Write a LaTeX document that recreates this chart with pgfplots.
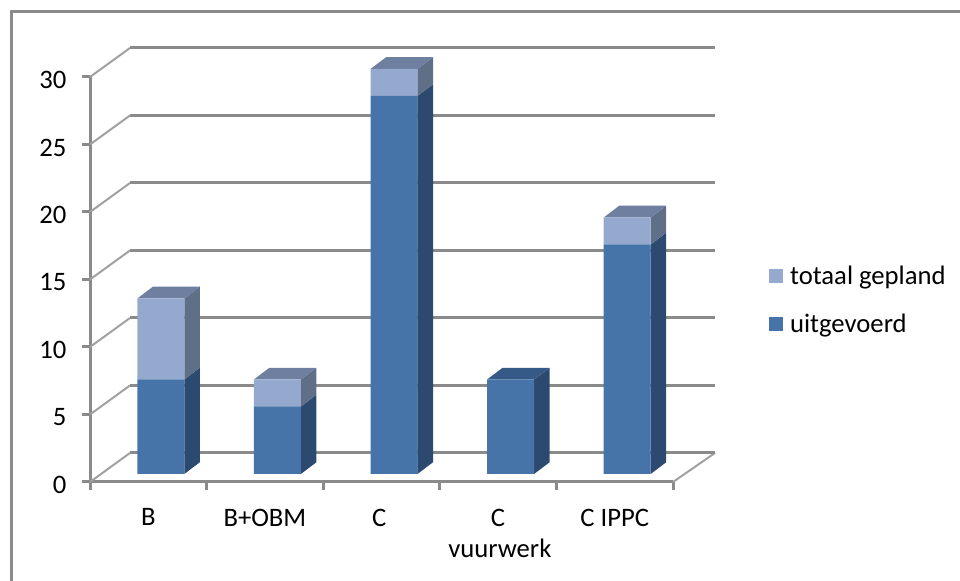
\documentclass[border=0pt]{standalone}
\usepackage{fontspec}
\setmainfont{Carlito}
\usepackage{pgfplots}
\usepackage{pgfplotstable}
\pgfplotsset{compat=1.18}

% one reference pixel
\newlength\px
\setlength\px{0.75pt}
\newcommand\chartfont{\fontsize{20pt}{23pt}\selectfont}

\definecolor{framegray}{HTML}{8A8A8A}
\definecolor{darkfront}{HTML}{4674A8}
\definecolor{darkside}{HTML}{2C4A70}
\definecolor{darktop}{HTML}{355A88}
\definecolor{lightfront}{HTML}{95A9CF}
\definecolor{lightside}{HTML}{5F6F87}
\definecolor{lighttop}{HTML}{6E7F9F}

\pgfplotstableread{
x   uitgevoerd gepland
0.5 7          6
1.5 5          2
2.5 28         2
3.5 7          0
4.5 17         2
}\bars

\pgfplotsset{
  base/.style={
    scale only axis, width=583\px, height=405\px,
    xmin=0, xmax=5, ymin=0, ymax=30, clip=false,
  },
}

% side and top faces of a bar, in axis units
\def\hw{0.2015}
\def\dx{0.133}
\def\dy{0.87}
\newcommand\sideface[4]{%
  \pgfmathsetmacro\xa{#1+\hw}\pgfmathsetmacro\xb{#1+\hw+\dx}%
  \pgfmathsetmacro\ya{#2+\dy}\pgfmathsetmacro\yb{#3+\dy}%
  \addplot[fill=#4, draw=none] coordinates {(\xa,#2)(\xb,\ya)(\xb,\yb)(\xa,#3)} -- cycle;
}
\newcommand\topface[3]{%
  \pgfmathsetmacro\xa{#1-\hw}\pgfmathsetmacro\xb{#1+\hw}%
  \pgfmathsetmacro\xc{#1+\hw+\dx}\pgfmathsetmacro\xd{#1-\hw+\dx}%
  \pgfmathsetmacro\ya{#2+\dy}%
  \addplot[fill=#3, draw=none] coordinates {(\xa,#2)(\xb,#2)(\xc,\ya)(\xd,\ya)} -- cycle;
}

\begin{document}
\begin{tikzpicture}
\path[use as bounding box] (-90\px,-99\px) rectangle (870\px,482\px);
% outer chart frame
\draw[framegray, line width=3\px] (-78.5\px,-99\px) -- (-78.5\px,470.5\px) -- (870\px,470.5\px);

% walls, grid and axes
\begin{axis}[base,
    axis x line*=bottom, axis y line*=left,
    axis line style={draw=framegray, line width=3\px, -},
    tick style={draw=framegray, line width=3\px},
    tick align=outside, major tick length=8\px,
    xtick={0,1,2,3,4,5}, xticklabels={},
    ytick={0,5,10,15,20,25,30},
    extra x ticks={0.5,1.5,2.48,3.5,4.5},
    extra x tick labels={B,B+OBM,C,C,C IPPC},
    extra x tick style={tick style={draw=none}},
    tick label style={font=\chartfont},
    /pgf/number format/assume math mode=true,
    x tick label style={yshift=-14\px},
    y tick label style={xshift=-11\px, yshift=-3\px},
    xlabel={vuurwerk},
    x label style={font=\chartfont, at={(axis description cs:0.703,-0.163)}, anchor=center},
  ]
  % left wall edges
  \addplot[framegray!80, line width=2\px] coordinates {(0,0)(0.343,2.15)};
  \addplot[framegray!80, line width=2\px] coordinates {(0,5)(0.343,7.15)};
  \addplot[framegray!80, line width=2\px] coordinates {(0,10)(0.343,12.15)};
  \addplot[framegray!80, line width=2\px] coordinates {(0,15)(0.343,17.15)};
  \addplot[framegray!80, line width=2\px] coordinates {(0,20)(0.343,22.15)};
  \addplot[framegray!80, line width=2\px] coordinates {(0,25)(0.343,27.15)};
  \addplot[framegray!80, line width=2\px] coordinates {(0,30)(0.343,32.15)};
  % floor right edge
  \addplot[framegray!80, line width=2\px] coordinates {(5,0)(5.36,2.15)};
  % back wall grid
  \addplot[framegray, line width=3\px] coordinates {(0.343,2.15)(5.36,2.15)};
  \addplot[framegray, line width=3\px] coordinates {(0.343,7.15)(5.36,7.15)};
  \addplot[framegray, line width=3\px] coordinates {(0.343,12.15)(5.36,12.15)};
  \addplot[framegray, line width=3\px] coordinates {(0.343,17.15)(5.36,17.15)};
  \addplot[framegray, line width=3\px] coordinates {(0.343,22.15)(5.36,22.15)};
  \addplot[framegray, line width=3\px] coordinates {(0.343,27.15)(5.36,27.15)};
  \addplot[framegray, line width=3\px] coordinates {(0.343,32.15)(5.36,32.15)};
\end{axis}

% side and top faces
\begin{axis}[base, hide axis, at={(12.5\px,8\px)}]
  \sideface{0.5}{0}{7}{darkside}
  \sideface{0.5}{7}{13}{lightside}
  \topface{0.5}{13}{lighttop}
  \sideface{1.5}{0}{5}{darkside}
  \sideface{1.5}{5}{7}{lightside}
  \topface{1.5}{7}{lighttop}
  \sideface{2.5}{0}{28}{darkside}
  \sideface{2.5}{28}{30}{lightside}
  \topface{2.5}{30}{lighttop}
  \sideface{3.5}{0}{7}{darkside}
  \topface{3.5}{7}{darktop}
  \sideface{4.5}{0}{17}{darkside}
  \sideface{4.5}{17}{19}{lightside}
  \topface{4.5}{19}{lighttop}
\end{axis}

% bar fronts and legend
\begin{axis}[base, hide axis, at={(12.5\px,8\px)},
    ybar stacked, bar width=47\px,
    legend style={
      at={(1.1435,0.521)}, anchor=north west, draw=none, fill=none,
      font=\chartfont, row sep=22\px, inner sep=0pt,
    },
    legend cell align=left,
    reverse legend,
    legend image code/.code={\fill[#1] (0\px,-7\px) rectangle (14\px,7\px);\path (18\px,0\px);},
  ]
  \addplot[fill=darkfront, draw=none] table[x=x, y=uitgevoerd] {\bars};
  \addlegendentry{uitgevoerd}
  \addplot[fill=lightfront, draw=none] table[x=x, y=gepland] {\bars};
  \addlegendentry{totaal gepland}
\end{axis}
\end{tikzpicture}
\end{document}
